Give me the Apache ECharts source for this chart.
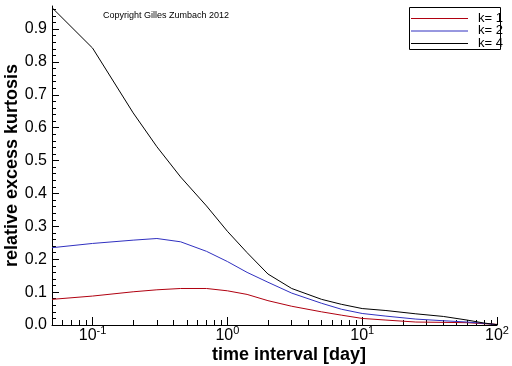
<!DOCTYPE html>
<html><head><meta charset="utf-8">
<script src="https://cdn.jsdelivr.net/npm/echarts@6/dist/echarts.min.js"></script>
<style>html,body{margin:0;padding:0;background:#fff}#c{width:512px;height:366px}</style>
</head><body><div id="c"></div>
<script>
const timeInterval = [0.05, 0.1, 0.2, 0.3, 0.45, 0.7, 1, 1.4, 2, 3, 5, 7, 10, 15, 25, 40, 60, 80, 100];
const k1 = [0.078, 0.088, 0.101, 0.107, 0.111, 0.111, 0.104, 0.093, 0.074, 0.057, 0.040, 0.030, 0.020, 0.015, 0.009, 0.008, 0.007, 0.004, 0.002];
const k2 = [0.235, 0.248, 0.258, 0.263, 0.253, 0.224, 0.193, 0.160, 0.130, 0.097, 0.066, 0.048, 0.035, 0.027, 0.018, 0.013, 0.009, 0.005, 0.001];
const k4 = [0.965, 0.842, 0.645, 0.542, 0.450, 0.362, 0.285, 0.220, 0.155, 0.111, 0.078, 0.063, 0.050, 0.044, 0.034, 0.026, 0.015, 0.006, 0.001];
const seriesNames = ['k= 1', 'k= 2', 'k= 4'];
const seriesColors = ['#b00010', '#3030c0', '#000000'];
const xMajorTicks = [0.1, 1, 10, 100];
const xMajorLabels = ['{b|10}{s|-1}', '{b|10}{s|0}', '{b|10}{s|1}', '{b|10}{s|2}'];
const xMinorTicks = [0.05,0.06,0.07,0.08,0.09,0.2,0.3,0.4,0.5,0.6,0.7,0.8,0.9,2,3,4,5,6,7,8,9,20,30,40,50,60,70,80,90];
const yTicks = [0, 0.1, 0.2, 0.3, 0.4, 0.5, 0.6, 0.7, 0.8, 0.9];
const yMinorTicks = [];
for (let i = 0; i <= 48; i++) yMinorTicks.push(+(i * 0.02).toFixed(2));

const font = 'Liberation Sans, Arial, sans-serif';
const pair = (ys) => timeInterval.map((t, i) => [t, ys[i]]);

// legend drawn as graphic elements (box, line samples, labels)
const legendGraphic = [{
  type: 'rect', shape: {x: 409.5, y: 7.5, width: 91, height: 42},
  style: {fill: '#fff', stroke: '#000', lineWidth: 1}, z: 10
}];
seriesNames.forEach((n, i) => {
  const y = 18.5 + i * 12.5;
  legendGraphic.push({
    type: 'line', shape: {x1: 411, y1: y, x2: 468, y2: y},
    style: {stroke: seriesColors[i], lineWidth: 1}, z: 11
  });
  legendGraphic.push({
    type: 'text', x: 478, y: y - 7,
    style: {text: n, font: '13px ' + font, fill: '#000', verticalAlign: 'top'}, z: 11
  });
});

const chart = echarts.init(document.getElementById('c'), null, {renderer: 'canvas'});
chart.setOption({
  animation: false,
  grid: {left: 52, right: 15, top: 6, bottom: 41, containLabel: false, outerBoundsMode: 'none'},
  xAxis: [{
    type: 'log', logBase: 10, min: 0.05, max: 100,
    name: 'time interval [day]', nameLocation: 'middle', nameGap: 21, nameMoveOverlap: false,
    nameTextStyle: {fontFamily: font, fontSize: 18, fontWeight: 'bold', color: '#000', padding: [0, 0, 0, 29], verticalAlign: 'top'},
    axisLine: {lineStyle: {color: '#000', width: 1}},
    axisTick: {inside: true, length: 8, customValues: xMajorTicks, lineStyle: {color: '#000'}},
    axisLabel: {
      customValues: xMajorTicks, margin: 0,
      formatter: (v) => { const i = xMajorTicks.findIndex(m => Math.abs(m - v) / m < 1e-6); return i >= 0 ? xMajorLabels[i] : ''; },
      rich: {
        b: {fontFamily: font, fontSize: 16, color: '#000'},
        s: {fontFamily: font, fontSize: 11, color: '#000', padding: [0, 0, 10, 0]}
      }
    },
    splitLine: {show: false}
  }, {
    type: 'log', logBase: 10, min: 0.05, max: 100, position: 'bottom',
    axisLine: {show: false},
    axisTick: {inside: true, length: 5, customValues: xMinorTicks, lineStyle: {color: '#000'}},
    axisLabel: {show: false},
    splitLine: {show: false}
  }],
  yAxis: [{
    type: 'value', min: 0, max: 0.97,
    name: 'relative excess kurtosis', nameLocation: 'middle', nameGap: 31, nameMoveOverlap: false,
    nameTextStyle: {fontFamily: font, fontSize: 18, fontWeight: 'bold', color: '#000'},
    axisLine: {show: true, lineStyle: {color: '#000', width: 1}},
    axisTick: {show: true, inside: true, length: 7, customValues: yTicks, lineStyle: {color: '#000'}},
    axisLabel: {customValues: yTicks, formatter: (v) => v.toFixed(1), fontFamily: font, fontSize: 16, color: '#000', margin: 5},
    splitLine: {show: false}
  }, {
    type: 'value', min: 0, max: 0.97, position: 'left',
    axisLine: {show: false},
    axisTick: {show: true, inside: true, length: 4, customValues: yMinorTicks, lineStyle: {color: '#000'}},
    axisLabel: {show: false},
    splitLine: {show: false}
  }],
  graphic: [{
    type: 'text', left: 103, top: 11,
    style: {text: 'Copyright Gilles Zumbach 2012', font: '9px ' + font, fill: '#000'}
  }].concat(legendGraphic),
  series: seriesNames.map((n, i) => ({
    name: n, type: 'line', data: pair([k1, k2, k4][i]), symbol: 'none',
    lineStyle: {color: seriesColors[i], width: 1}, itemStyle: {color: seriesColors[i]}
  }))
});
</script></body></html>
